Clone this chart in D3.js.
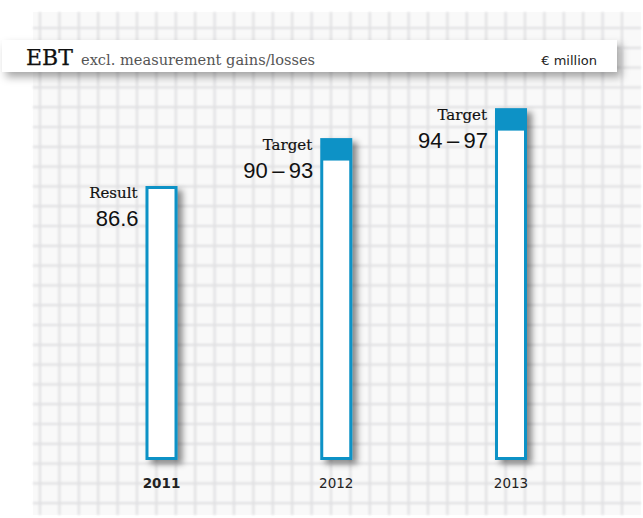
<!DOCTYPE html>
<html>
<head>
<meta charset="utf-8">
<script src="https://cdn.jsdelivr.net/npm/d3@7"></script>
<style>
  html, body { margin: 0; padding: 0; background: #fff; }
</style>
</head>
<body>
<div id="chart"></div>
<script>
// EBT excl. measurement gains/losses, € million
const years = ["2011", "2012", "2013"];
const kinds = ["Result", "Target", "Target"];
const lowValues = [86.6, 90, 94];
const highValues = [86.6, 93, 97];
const valueLabels = ["86.6", "90\u2009\u2013\u200993", "94\u2009\u2013\u200997"];

const W = 643, H = 518;
const blue = "#0a92c6";

const svg = d3.select("#chart").append("svg")
    .attr("width", W)
    .attr("height", H);

const defs = svg.append("defs");
const shadow = defs.append("filter").attr("id", "shadow")
    .attr("x", "-50%").attr("y", "-50%").attr("width", "200%").attr("height", "200%");
shadow.append("feDropShadow")
    .attr("dx", 5).attr("dy", 4).attr("stdDeviation", 3)
    .attr("flood-color", "#000").attr("flood-opacity", 0.45);

const headShadow = defs.append("filter").attr("id", "headShadow")
    .attr("x", "-10%").attr("y", "-50%").attr("width", "120%").attr("height", "250%");
headShadow.append("feDropShadow")
    .attr("dx", 4).attr("dy", 5).attr("stdDeviation", 4)
    .attr("flood-color", "#000").attr("flood-opacity", 0.35);

const blur = defs.append("filter").attr("id", "blur");
blur.append("feGaussianBlur").attr("stdDeviation", 1);

// grid paper
const paper = { x0: 33, y0: 12, x1: 641, y1: 515 };
svg.append("rect")
    .attr("x", paper.x0).attr("y", paper.y0)
    .attr("width", paper.x1 - paper.x0).attr("height", paper.y1 - paper.y0)
    .attr("fill", "#f9f9f9");

const grid = svg.append("g").attr("filter", "url(#blur)")
    .attr("stroke", "#e0e0e2").attr("stroke-width", 2.2);
const gx = d3.range(40, paper.x1, 19.4);
const gy = d3.range(28, paper.y1, 19.8);
grid.selectAll(".vx").data(gx).enter().append("line")
    .attr("x1", d => d).attr("x2", d => d)
    .attr("y1", paper.y0).attr("y2", paper.y1);
grid.selectAll(".hy").data(gy).enter().append("line")
    .attr("y1", d => d).attr("y2", d => d)
    .attr("x1", paper.x0).attr("x2", paper.x1);

// scales
const x = d3.scalePoint().domain(years).range([161.5, 511]);
const y = d3.scaleLinear().domain([50, 100]).range([460, 85.7]);
const barW = 32, border = 3;

const bars = svg.append("g").selectAll(".bar")
    .data(years.map((yr, i) => ({ yr, kind: kinds[i], lo: lowValues[i], hi: highValues[i], label: valueLabels[i] })))
    .enter().append("g")
    .attr("class", "bar");

bars.append("rect")
    .attr("x", d => x(d.yr) - barW / 2)
    .attr("y", d => y(d.hi))
    .attr("width", barW)
    .attr("height", d => y(50) - y(d.hi))
    .attr("fill", blue)
    .attr("filter", "url(#shadow)");

bars.append("rect")
    .attr("x", d => x(d.yr) - barW / 2 + border)
    .attr("y", d => d.kind === "Result" ? y(d.hi) + border : y(d.lo))
    .attr("width", barW - 2 * border)
    .attr("height", d => y(50) - border - (d.kind === "Result" ? y(d.hi) + border : y(d.lo)))
    .attr("fill", "#fff");

bars.append("text")
    .attr("x", d => x(d.yr) - barW / 2 - 8)
    .attr("y", d => y(d.hi) + 12)
    .attr("text-anchor", "end")
    .style("font-family", "'DejaVu Serif', serif")
    .style("font-size", "15px")
    .attr("fill", "#111")
    .attr("stroke", "#111")
    .attr("stroke-width", 0.2)
    .text(d => d.kind);

bars.append("text")
    .attr("x", d => x(d.yr) - barW / 2 - 7)
    .attr("y", d => y(d.hi) + 40)
    .attr("text-anchor", "end")
    .style("font-family", "'Liberation Sans', Arial, sans-serif")
    .style("font-size", "22px")
    .attr("fill", "#111")
    .text(d => d.label);

// year labels
svg.append("g").selectAll(".year")
    .data(years)
    .enter().append("text")
    .attr("x", d => x(d))
    .attr("y", 488)
    .attr("text-anchor", "middle")
    .style("font-family", "'DejaVu Sans', sans-serif")
    .style("font-size", "13.5px")
    .style("font-weight", (d, i) => i === 0 ? "bold" : "normal")
    .attr("fill", "#222")
    .text(d => d);

// header band
const head = svg.append("g");
head.append("rect")
    .attr("x", 2).attr("y", 40)
    .attr("width", 615).attr("height", 32)
    .attr("fill", "#fff")
    .attr("filter", "url(#headShadow)");
head.append("text")
    .attr("x", 26).attr("y", 65)
    .style("font-family", "'DejaVu Serif', serif")
    .style("font-size", "22px")
    .attr("fill", "#111")
    .attr("stroke", "#111")
    .attr("stroke-width", 0.25)
    .text("EBT");
head.append("text")
    .attr("x", 81).attr("y", 65)
    .style("font-family", "'DejaVu Serif', serif")
    .style("font-size", "14.6px")
    .attr("fill", "#555")
    .text("excl. measurement gains/losses");
head.append("text")
    .attr("x", 597).attr("y", 65)
    .attr("text-anchor", "end")
    .style("font-family", "'DejaVu Sans', sans-serif")
    .style("font-size", "13px")
    .attr("fill", "#222")
    .text("€ million");
</script>
</body>
</html>
